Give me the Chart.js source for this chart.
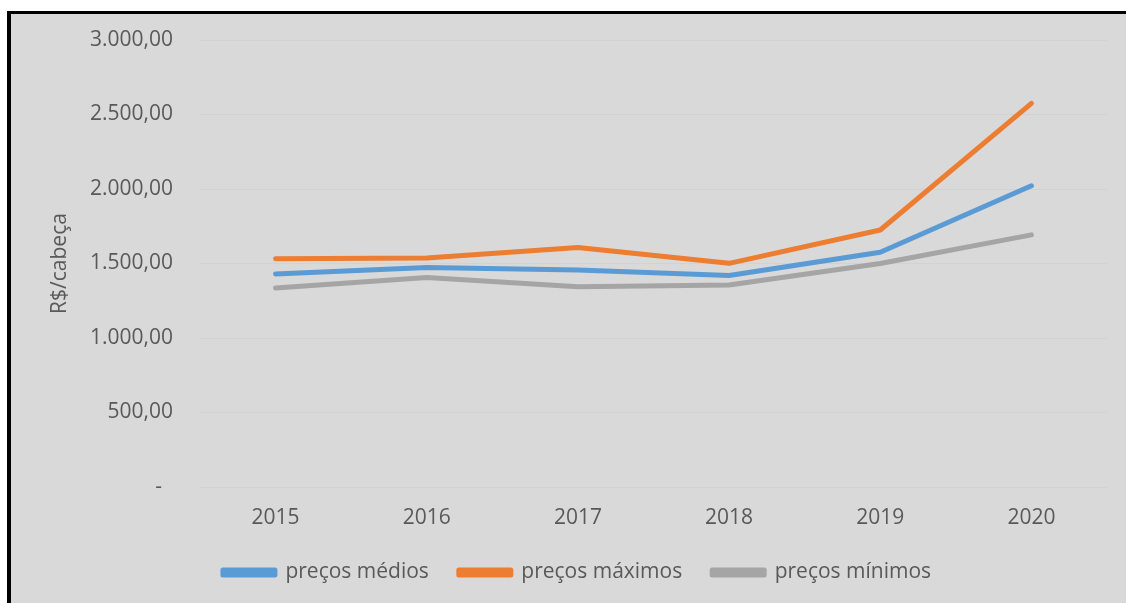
<!DOCTYPE html>
<html>
<head>
<meta charset="utf-8">
<script src="https://cdn.jsdelivr.net/npm/chart.js@4.4.0/dist/chart.umd.min.js"></script>
<style>
  html, body { margin: 0; padding: 0; background: #fff; }
  #frame {
    position: absolute; left: 7px; top: 11px;
    width: 1119px; height: 592px;
    border-left: 4px solid #000; border-top: 3px solid #000;
    background: #d9d9d9;
  }
  #wrap { position: absolute; left: 0; top: 0; width: 1115px; height: 589px; }
</style>
</head>
<body>
<div id="frame"><div id="wrap"><canvas id="precosChart"></canvas></div></div>
<script>
// categorias e séries (R$/cabeça)
const anos = ['2015', '2016', '2017', '2018', '2019', '2020'];
const precosMedios = [1430, 1473, 1456, 1419, 1575, 2022];
const precosMaximos = [1532, 1537, 1607, 1501, 1725, 2575];
const precosMinimos = [1335, 1406, 1344, 1356, 1500, 1692];
const yTicks = [0, 500, 1000, 1500, 2000, 2500, 3000];

const textColor = '#595959';
const fontFamily = '"Open Sans", "Noto Sans", sans-serif';

function fmt(v) {
  if (v === 0) return '-  ';
  return v.toLocaleString('pt-BR', { minimumFractionDigits: 2, maximumFractionDigits: 2 });
}

function serie(label, data, color) {
  return {
    label: label,
    data: data,
    borderColor: color,
    backgroundColor: color,
    borderWidth: 5,
    borderCapStyle: 'round',
    borderJoinStyle: 'round',
    pointRadius: 0,
    pointHoverRadius: 0,
    tension: 0,
    fill: false
  };
}

const ctx = document.getElementById('precosChart').getContext('2d');
new Chart(ctx, {
  type: 'line',
  data: {
    labels: anos,
    datasets: [
      serie('preços médios', precosMedios, '#5b9bd5'),
      serie('preços máximos', precosMaximos, '#ed7d31'),
      serie('preços mínimos', precosMinimos, '#a5a5a5')
    ]
  },
  options: {
    responsive: true,
    maintainAspectRatio: false,
    animation: false,
    layout: { padding: { top: 26, right: 19, left: 36, bottom: 10 } },
    plugins: {
      tooltip: { enabled: false },
      legend: {
        position: 'bottom',
        labels: {
          color: textColor,
          font: { family: fontFamily, size: 21 },
          boxWidth: 52,
          boxHeight: 5,
          padding: 30
        }
      }
    },
    scales: {
      x: {
        offset: true,
        grid: { display: false, drawTicks: false },
        border: { display: false },
        ticks: { color: textColor, font: { family: fontFamily, size: 21 }, padding: 18 },
        afterFit: (s) => { s.height = 45; }
      },
      y: {
        min: 0,
        max: 3000,
        afterBuildTicks: (s) => { s.ticks = yTicks.map(v => ({ value: v })); },
        grid: { color: '#d2d2d2', lineWidth: 1, drawTicks: false },
        border: { display: false },
        ticks: {
          color: textColor,
          font: { family: fontFamily, size: 21 },
          padding: 27,
          callback: (v) => fmt(v)
        },
        title: {
          display: true,
          text: 'R$/cabeça',
          color: textColor,
          font: { family: fontFamily, size: 21 },
          padding: { top: 0 }
        },
        afterFit: (s) => { s.width = 153; s.paddingTop = 0; s.paddingBottom = 0; }
      }
    }
  }
});
</script>
</body>
</html>
